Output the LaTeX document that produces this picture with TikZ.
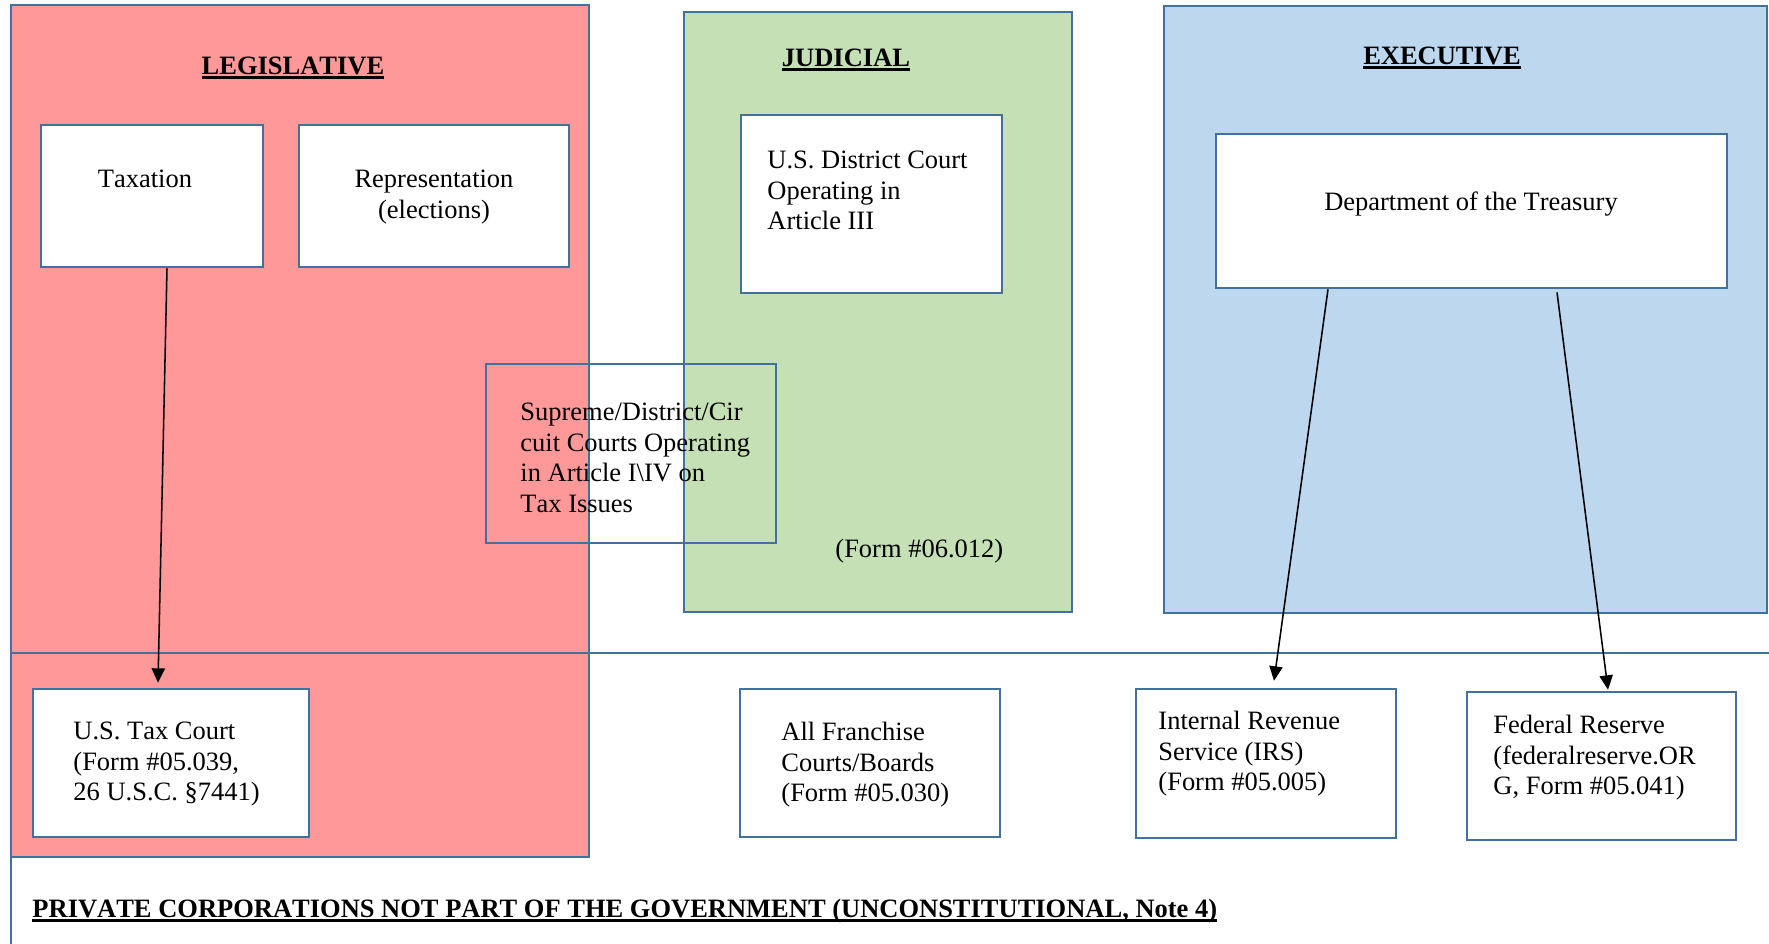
\documentclass[tikz,border=0pt]{standalone}
\usepackage{fontspec}
\setmainfont[Kerning=Off]{Liberation Serif}
\usepackage{xcolor}
\usetikzlibrary{arrows.meta,fit}

\definecolor{edge}{RGB}{65,113,156}
\definecolor{legred}{RGB}{255,153,153}
\definecolor{judgreen}{RGB}{197,224,180}
\definecolor{exeblue}{RGB}{189,215,238}

\newcommand{\headul}[1]{\sbox0{#1}\rlap{\usebox0}\rule[-2.3pt]{\wd0}{1.3pt}}

\tikzset{
  branch/.style={draw=edge, line width=1.2pt, inner sep=0pt},
  office/.style={draw=edge, line width=1.2pt, fill=white, inner sep=0pt},
  txt/.style={inner sep=0pt, align=left, font=\fontsize{12}{13.8}\selectfont},
  head/.style={inner sep=0pt, font=\fontsize{12}{13.8}\selectfont\bfseries},
}

\begin{document}
\begin{tikzpicture}[x=0.453pt, y=-0.453pt, >={Triangle[length=6.5pt,width=6pt]}]
    \useasboundingbox (0,0) rectangle (1769,943);

    \node[branch, fill=legred, fit={(11,5)(589,857)}] (leg) {};
    \node[branch, fill=judgreen, fit={(684,12)(1072,612)}] (jud) {};
    \node[branch, fill=exeblue, fit={(1164,6)(1767,613)}] (exe) {};
    \node[branch, fit={(11,653)(1790,960)}] (priv) {};

    \node[office, fit={(41,125)(263,267)}] (tax) {};
    \node[office, fit={(299,125)(569,267)}] (rep) {};
    \node[office, fit={(741,115)(1002,293)}] (dist) {};
    \node[branch, fit={(486,364)(776,543)}] (sup) {};
    \node[office, fit={(1216,134)(1727,288)}] (treas) {};
    \node[office, fit={(33,689)(309,837)}] (taxct) {};
    \node[office, fit={(740,689)(1000,837)}] (fran) {};
    \node[office, fit={(1136,689)(1396,838)}] (irs) {};
    \node[office, fit={(1467,692)(1736,840)}] (fed) {};

    \node[head, anchor=base] (legT) at (293,74) {\headul{LEGISLATIVE}};
    \node[head, anchor=base] (judT) at (846,66) {\headul{JUDICIAL}};
    \node[head, anchor=base] (exeT) at (1442,64) {\headul{EXECUTIVE}};
    \node[head, anchor=base west] (privT) at (32,917) {\headul{PRIVATE CORPORATIONS NOT PART OF THE GOVERNMENT (UNCONSTITUTIONAL, Note 4)}};

    \node[txt, anchor=north] (taxT) at (145,170) {Taxation};
    \node[txt, anchor=north, align=center] (repT) at (434,170) {Representation\\(elections)};
    \node[txt, anchor=north west] (distT) at (767,151) {U.S. District Court\\Operating in\\Article III};
    \node[txt, anchor=north west] (supT) at (520,403) {Supreme/District/Cir\\cuit Courts Operating\\in Article I\textbackslash IV on\\Tax Issues};
    \node[txt, anchor=north west] (formT) at (835,539) {(Form \#06.012)};
    \node[txt, anchor=north] (treasT) at (1471,191) {Department of the Treasury};
    \node[txt, anchor=north west] (taxctT) at (73,722) {U.S. Tax Court\\(Form \#05.039,\\26 U.S.C. §7441)};
    \node[txt, anchor=north west] (franT) at (781,722) {All Franchise\\Courts/Boards\\(Form \#05.030)};
    \node[txt, anchor=north west] (irsT) at (1158,711) {Internal Revenue\\Service (IRS)\\(Form \#05.005)};
    \node[txt, anchor=north west] (fedT) at (1493,715) {Federal Reserve\\(federalreserve.OR\\G, Form \#05.041)};

    \draw[->, line width=0.7pt] ([shift={(15,0)}]tax.south) -- ([shift={(-13,-5)}]taxct.north);
    \draw[->, line width=0.7pt] ([shift={(-143.5,0)}]treas.south) -- ([shift={(8,-7)}]irs.north);
    \draw[->, line width=0.7pt] ([shift={(85.5,3)}]treas.south) -- ([shift={(6.5,-1)}]fed.north);
\end{tikzpicture}
\end{document}
